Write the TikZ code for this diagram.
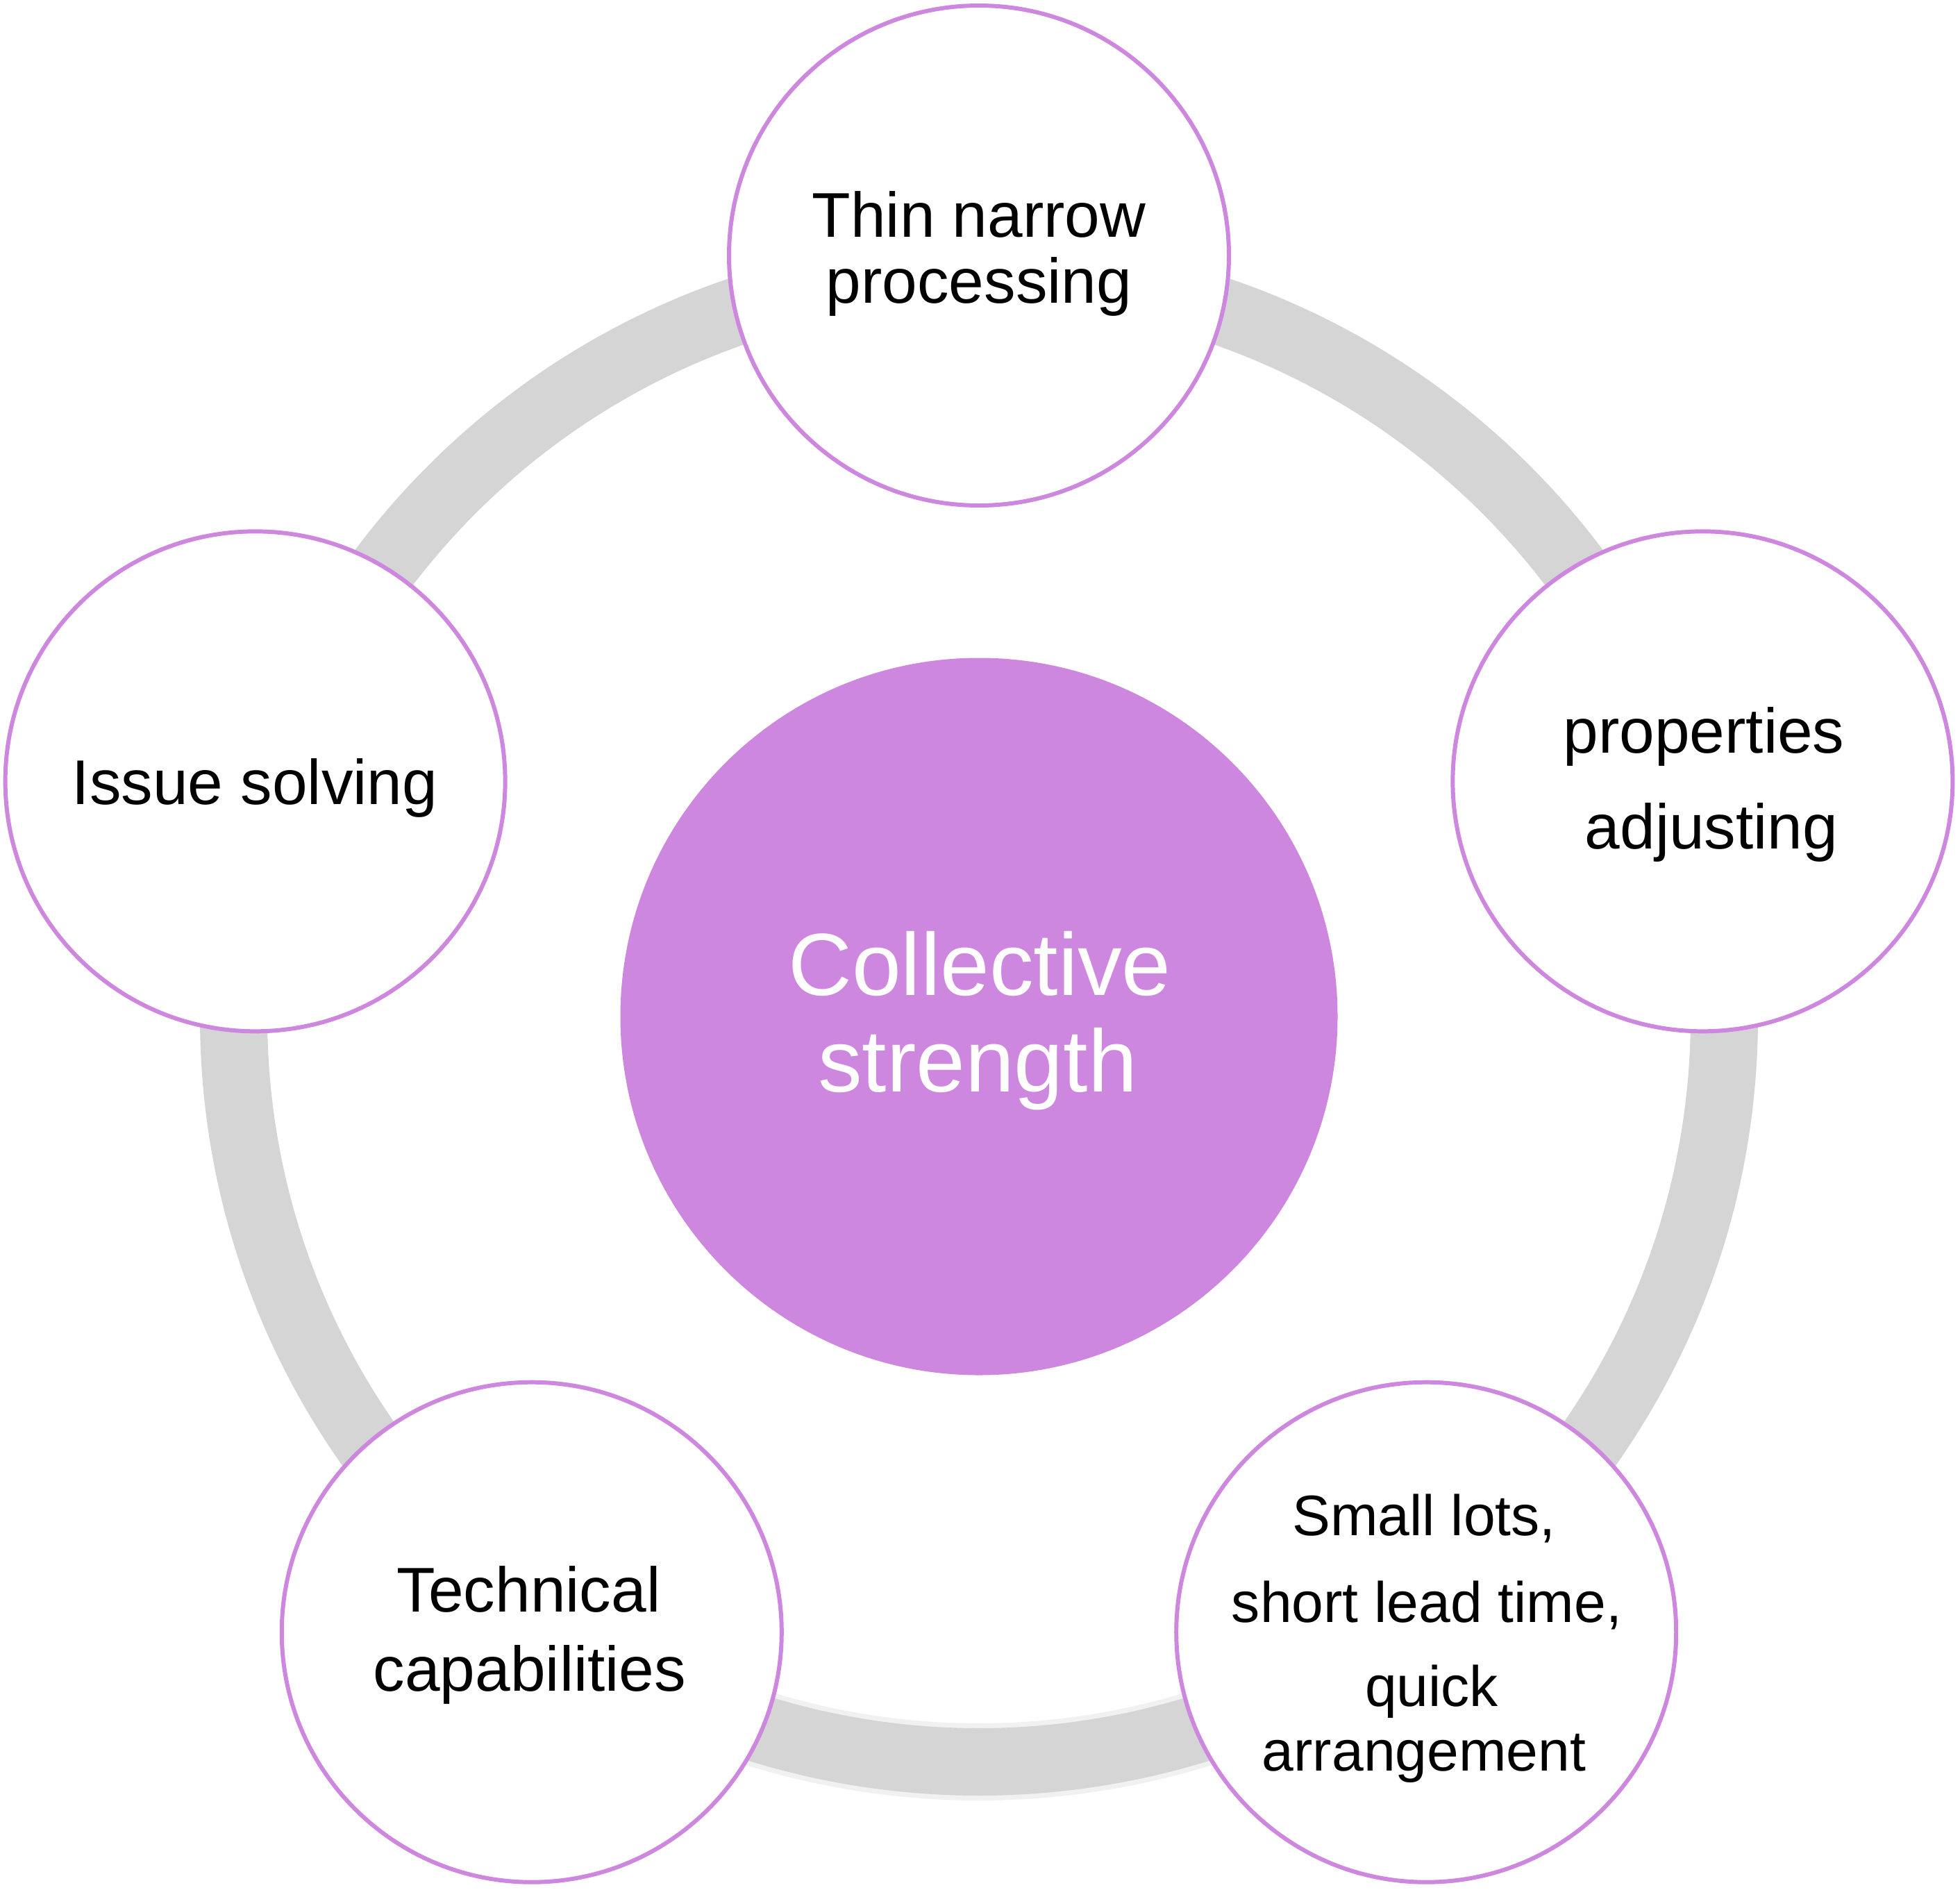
\documentclass[tikz,border=0pt]{standalone}
\usepackage{fontspec}
\setmainfont{Liberation Sans}
\usetikzlibrary{calc}
\definecolor{ringgray}{HTML}{D5D5D5}
\definecolor{ringedge}{HTML}{F1F1F1}
\definecolor{violet}{HTML}{CE87DF}
\tikzset{
  bubble/.style={circle, draw=violet, line width=1.7pt, fill=white, minimum size=7.2cm, inner sep=0pt},
  core/.style={circle, fill=violet, minimum size=10.33cm, inner sep=0pt},
  txt/.style={anchor=base, inner sep=0pt, font=\fontsize{25.9}{31}\selectfont},
  smalltxt/.style={anchor=base, inner sep=0pt, font=\fontsize{23.4}{28}\selectfont},
  coretxt/.style={anchor=base, inner sep=0pt, text=white, font=\fontsize{36.2}{43}\selectfont},
  ring/.style={draw=ringgray, line width=0.97cm},
  ringrim/.style={draw=ringedge, line width=1.11cm},
}
\begin{document}
\begin{tikzpicture}
  \fill[white] (0,0) rectangle (28.23,-27.22);
  \useasboundingbox (0,0) rectangle (28.23,-27.22);
  \coordinate (C) at (14.10,-14.64);
  % ring
  \path[ring] (C) circle[radius=10.735cm];
  \path[ringrim] ([shift={(-116:10.735)}]C) arc[start angle=-116, end angle=-64, radius=10.735cm];
  \path[ring] ([shift={(-117:10.735)}]C) arc[start angle=-117, end angle=-63, radius=10.735cm];
  % centre
  \node[core] (core) at (C) {};
  % satellites
  \node[bubble] (top) at ([shift={(90:10.96)}]C) {};
  \node[bubble] (right) at ([shift={(18:10.96)}]C) {};
  \node[bubble] (botright) at ([shift={(-54:10.96)}]C) {};
  \node[bubble] (botleft) at ([shift={(-126:10.96)}]C) {};
  \node[bubble] (left) at ([shift={(162:10.96)}]C) {};
  % texts
  \node[coretxt] (c1) at (14.11,-14.337) {Collective};
  \node[coretxt] (c2) at (14.08,-15.72) {strength};
  \node[txt] (t1) at (14.10,-3.41) {Thin narrow};
  \node[txt] (t2) at (14.10,-4.36) {processing};
  \node[txt] (r1) at (24.54,-10.84) {properties};
  \node[txt] (r2) at (24.65,-12.22) {adjusting};
  \node[txt] (l1) at (3.67,-11.58) {Issue solving};
  \node[txt] (bl1) at (7.615,-23.21) {Technical};
  \node[txt] (bl2) at (7.63,-24.35) {capabilities};
  \node[smalltxt] (br1) at (20.51,-22.11) {Small lots,};
  \node[smalltxt] (br2) at (20.55,-23.36) {short lead time,};
  \node[smalltxt] (br3) at (20.62,-24.57) {quick};
  \node[smalltxt] (br4) at (20.51,-25.50) {arrangement};
\end{tikzpicture}
\end{document}
